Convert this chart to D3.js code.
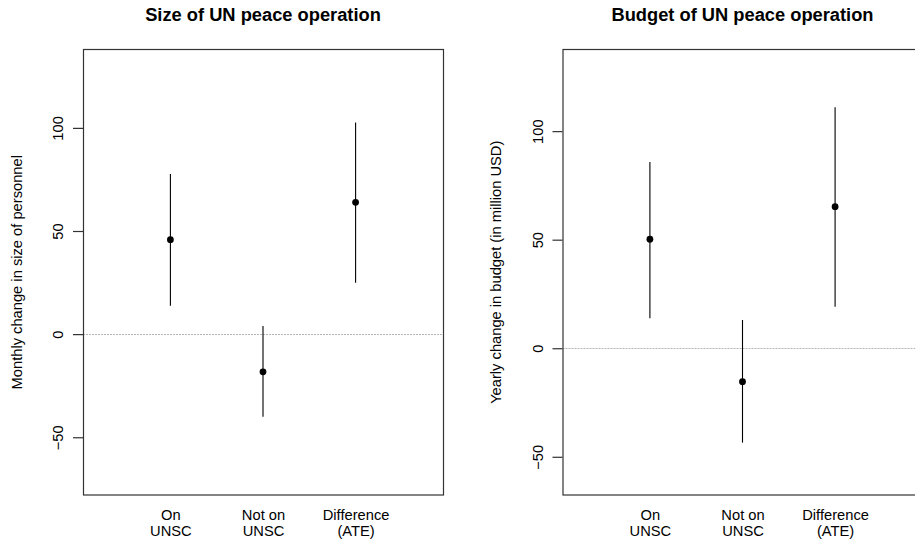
<!DOCTYPE html>
<html>
<head>
<meta charset="utf-8">
<script src="https://cdn.jsdelivr.net/npm/d3@7"></script>
<style>
  html, body { margin: 0; padding: 0; background: #fff; overflow: hidden; }
  svg { display: block; }
  text { font-family: "Liberation Sans", Arial, sans-serif; fill: #000; }
</style>
</head>
<body>
<svg id="chart" width="915" height="542"></svg>
<script>
// ---- data ----
const categories = [["On", "UNSC"], ["Not on", "UNSC"], ["Difference", "(ATE)"]];
const categoryPos = [1, 2, 3];
const yTicks = [-50, 0, 50, 100];

const sizeTitle = "Size of UN peace operation";
const sizeYLabel = "Monthly change in size of personnel";
const sizeEst  = [45.8, -18.3, 63.9];
const sizeLow  = [13.8, -40.1, 24.9];
const sizeHigh = [77.6, 3.9, 102.6];
const sizeYLim = [-70, 130];

const budgetTitle = "Budget of UN peace operation";
const budgetYLabel = "Yearly change in budget (in million USD)";
const budgetEst  = [50.2, -15.4, 65.2];
const budgetLow  = [13.8, -43.5, 19.1];
const budgetHigh = [85.8, 13.0, 111.0];
const budgetYLim = [-60, 130];

const xLim = [0.2, 3.8];

// ---- layout ----
const svg = d3.select("#chart");
const boxTop = 49.5, boxBottom = 495, boxWidth = 360;
const panels = [
  { left: 83, title: sizeTitle, ylab: sizeYLabel, est: sizeEst, lo: sizeLow, hi: sizeHigh, ylim: sizeYLim },
  { left: 562.5, title: budgetTitle, ylab: budgetYLabel, est: budgetEst, lo: budgetLow, hi: budgetHigh, ylim: budgetYLim }
];

function ext(lim) { const d = (lim[1] - lim[0]) * 0.04; return [lim[0] - d, lim[1] + d]; }

const axisFont = 14.7;

panels.forEach(p => {
  const x = d3.scaleLinear().domain(ext(xLim)).range([p.left, p.left + boxWidth]);
  const y = d3.scaleLinear().domain(ext(p.ylim)).range([boxBottom, boxTop]);
  const g = svg.append("g");

  // zero reference line
  g.append("line")
    .attr("x1", p.left).attr("x2", p.left + boxWidth)
    .attr("y1", Math.round(y(0)) + 0.5).attr("y2", Math.round(y(0)) + 0.5)
    .attr("stroke", "#b4b4b4").attr("stroke-width", 1)
    .attr("stroke-dasharray", "2,1");

  // whiskers
  const idx = d3.range(p.est.length);
  g.selectAll("line.ci").data(idx).join("line")
    .attr("class", "ci")
    .attr("x1", i => x(categoryPos[i])).attr("x2", i => x(categoryPos[i]))
    .attr("y1", i => y(p.lo[i])).attr("y2", i => y(p.hi[i]))
    .attr("stroke", "#000").attr("stroke-width", 1.1);

  // points
  g.selectAll("circle.pt").data(idx).join("circle")
    .attr("class", "pt")
    .attr("cx", i => x(categoryPos[i])).attr("cy", i => y(p.est[i]))
    .attr("r", 3.4).attr("fill", "#000");

  // box
  g.append("rect")
    .attr("x", p.left + 0.5).attr("y", boxTop)
    .attr("width", boxWidth).attr("height", boxBottom - boxTop)
    .attr("fill", "none").attr("stroke", "#333").attr("stroke-width", 1.2);

  // y axis
  const yAxis = g.append("g")
    .attr("transform", `translate(${p.left},0)`)
    .call(d3.axisLeft(y).tickValues(yTicks).tickSize(10).tickFormat(d3.format("d")));
  yAxis.select(".domain").remove();
  yAxis.selectAll(".tick line").attr("stroke", "#333").attr("stroke-width", 1.2);
  yAxis.selectAll(".tick text")
    .attr("x", null).attr("dy", null)
    .attr("transform", "translate(-20,0) rotate(-90)")
    .attr("text-anchor", "middle")
    .style("font-family", "'Liberation Sans', Arial, sans-serif")
    .style("font-size", axisFont + "px")
    .attr("fill", "#000");

  // x axis labels
  const xAxis = g.append("g")
    .attr("transform", `translate(0,${boxBottom})`)
    .call(d3.axisBottom(x).tickValues(categoryPos).tickSize(0).tickFormat(""));
  xAxis.select(".domain").remove();
  xAxis.selectAll(".tick text").remove();
  xAxis.selectAll(".tick").each(function(d, i) {
    const t = d3.select(this).append("text")
      .attr("text-anchor", "middle")
      .style("font-family", "'Liberation Sans', Arial, sans-serif")
      .style("font-size", axisFont + "px")
      .attr("fill", "#000");
    categories[i].forEach((line, j) => {
      t.append("tspan").attr("x", 0).attr("y", 25 + j * 15.5).text(line);
    });
  });

  // y label
  g.append("text")
    .attr("transform", `translate(${p.left - 61.5},${(boxTop + boxBottom) / 2}) rotate(-90)`)
    .attr("text-anchor", "middle")
    .style("font-size", axisFont + "px")
    .text(p.ylab);

  // title
  g.append("text")
    .attr("x", x(2)).attr("y", 21)
    .attr("text-anchor", "middle")
    .style("font-size", "18.3px").style("font-weight", "bold")
    .text(p.title);
});
</script>
</body>
</html>
